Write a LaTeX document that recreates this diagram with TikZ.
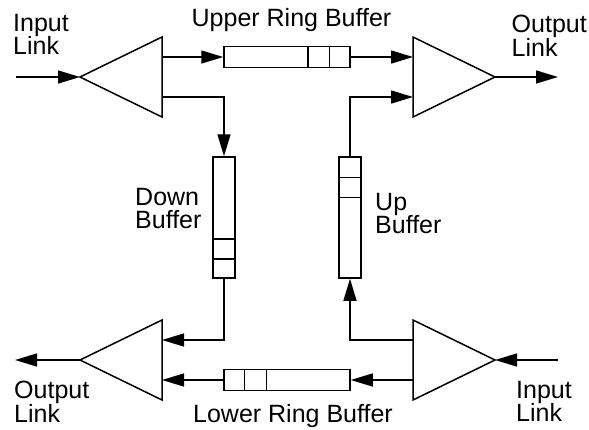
\documentclass[tikz,border=0pt]{standalone}
\usepackage{fontspec}
\setmainfont{Liberation Sans}
\usetikzlibrary{arrows.meta, calc}

\begin{document}
\begin{tikzpicture}[x=1pt, y=-1pt, >={Triangle[length=22pt,width=13pt]},
    link/.style={line width=1.5pt, ->},
    amp/.style={line width=1.5pt, line join=miter},
    hbuf/.style={draw, line width=1.5pt, inner sep=0pt, minimum width=126pt, minimum height=21pt},
    vbuf/.style={draw, line width=1.5pt, inner sep=0pt, minimum width=22pt, minimum height=121pt},
    lbl/.style={inner sep=0pt, align=left, font=\fontsize{25}{23.5}\selectfont}]
    \useasboundingbox (0,0) rectangle (589,429);

    % Amplifiers
    \draw[amp] (80,77) coordinate (tlA) -- (162,37) -- (162,117) -- cycle;
    \coordinate (tlO1) at (162,57);
    \coordinate (tlO2) at (162,97);
    \draw[amp] (495,77) coordinate (trA) -- (413,37) -- (413,117) -- cycle;
    \coordinate (trI1) at (413,57);
    \coordinate (trI2) at (413,97);
    \draw[amp] (80,360) coordinate (blA) -- (162,320) -- (162,400) -- cycle;
    \coordinate (blI1) at (162,340);
    \coordinate (blI2) at (162,380);
    \draw[amp] (495,360) coordinate (brA) -- (413,320) -- (413,400) -- cycle;
    \coordinate (brO1) at (413,340);
    \coordinate (brO2) at (413,380);

    % Buffers
    \node[hbuf] (ringup) at (287,57) {};
    \draw[line width=1.5pt] ([xshift=-21.5pt]ringup.north east) -- ([xshift=-21.5pt]ringup.south east);
    \draw[line width=1.5pt] ([xshift=-43pt]ringup.north east) -- ([xshift=-43pt]ringup.south east);
    \node[hbuf] (ringlow) at (287,380) {};
    \draw[line width=1.5pt] ([xshift=21pt]ringlow.north west) -- ([xshift=21pt]ringlow.south west);
    \draw[line width=1.5pt] ([xshift=43pt]ringlow.north west) -- ([xshift=43pt]ringlow.south west);
    \node[vbuf] (downbuf) at (224,217.5) {};
    \draw[line width=1.5pt] ([yshift=20pt]downbuf.south west) -- ([yshift=20pt]downbuf.south east);
    \draw[line width=1.5pt] ([yshift=40pt]downbuf.south west) -- ([yshift=40pt]downbuf.south east);
    \node[vbuf] (upbuf) at (350,217.5) {};
    \draw[line width=1.5pt] ([yshift=-21pt]upbuf.north west) -- ([yshift=-21pt]upbuf.north east);
    \draw[line width=1.5pt] ([yshift=-41pt]upbuf.north west) -- ([yshift=-41pt]upbuf.north east);

    % Links
    \coordinate (inTL) at (16,77);
    \coordinate (outTR) at (558,77);
    \coordinate (outBL) at (15,360);
    \coordinate (inBR) at (558,360);
    \draw[link] (inTL) -- (tlA);
    \draw[link] (tlO1) -- (ringup.west);
    \draw[link] (tlO2) -| (downbuf.north);
    \draw[link] (ringup.east) -- (trI1);
    \draw[link] (upbuf.north) |- (trI2);
    \draw[link] (trA) -- (outTR);
    \draw[link] (downbuf.south) |- (blI1);
    \draw[link] (ringlow.west) -- (blI2);
    \draw[link] (blA) -- (outBL);
    \draw[link] (brO2) -- (ringlow.east);
    \draw[link] (brO1) -| (upbuf.south);
    \draw[link] (inBR) -- (brA);

    % Labels
    \node[lbl, anchor=north west] (lInTL) at (13,14) {Input\\Link};
    \node[lbl, anchor=north west] (lOutTR) at (511.5,15) {Output\\Link};
    \node[lbl, anchor=north] (lRingUp) at (291.5,8) {Upper Ring Buffer};
    \node[lbl, anchor=north west] (lDown) at (135,188) {Down\\Buffer};
    \node[lbl, anchor=north west] (lUp) at (375,193) {Up\\Buffer};
    \node[lbl, anchor=north west] (lOutBL) at (14,381) {Output\\Link};
    \node[lbl, anchor=north] (lRingLow) at (293,404) {Lower Ring Buffer};
    \node[lbl, anchor=north west] (lInBR) at (516,381) {Input\\Link};
\end{tikzpicture}
\end{document}
